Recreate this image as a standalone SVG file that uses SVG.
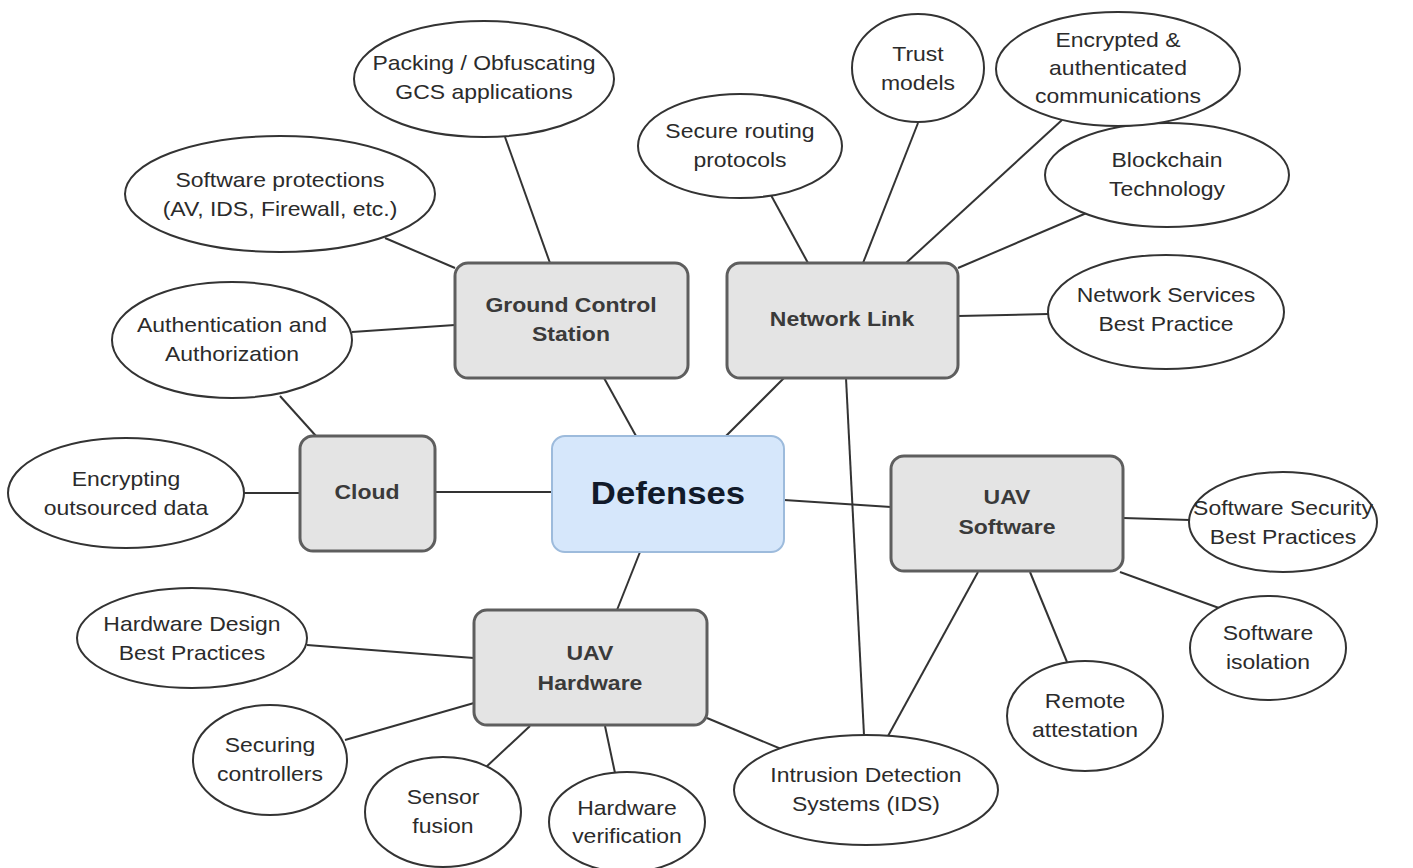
<svg xmlns="http://www.w3.org/2000/svg" width="1413" height="868" viewBox="0 0 1413 868">
<style>
.bg{fill:#ffffff}
.leaf{fill:#ffffff;stroke:#333333;stroke-width:2}
.hub{fill:#e4e4e4;stroke:#5e5e5e;stroke-width:3}
.root{fill:#d6e7fb;stroke:#9dbbdc;stroke-width:2}
text{transform-box:fill-box;transform-origin:center}
.t{font-family:"Liberation Sans",Arial,sans-serif;font-size:20.5px;fill:#2b2b2b;text-anchor:middle;transform:scaleX(1.12)}
.hb{font-family:"Liberation Sans",Arial,sans-serif;font-size:20px;font-weight:bold;fill:#3a3a3a;text-anchor:middle;transform:scaleX(1.15)}
.rt{font-family:"Liberation Sans",Arial,sans-serif;font-size:31px;font-weight:bold;fill:#111a2a;text-anchor:middle;transform:scaleX(1.12)}
.c line{stroke:#333333;stroke-width:2}
</style>
<rect class="bg" x="0" y="0" width="1413" height="868"/>
<g id="connectors" class="c">
<line x1="550" y1="263" x2="505" y2="137"/>
<line x1="455" y1="268" x2="385" y2="238"/>
<line x1="455" y1="325" x2="352" y2="332"/>
<line x1="604" y1="378" x2="636" y2="436"/>
<line x1="280" y1="396" x2="316" y2="436"/>
<line x1="300" y1="493" x2="244" y2="493"/>
<line x1="435" y1="492" x2="552" y2="492"/>
<line x1="784" y1="378" x2="726" y2="436"/>
<line x1="808" y1="263" x2="766" y2="186"/>
<line x1="863" y1="263" x2="918" y2="123"/>
<line x1="906" y1="263" x2="1062" y2="120"/>
<line x1="958" y1="268" x2="1096" y2="209"/>
<line x1="958" y1="316" x2="1048" y2="314"/>
<line x1="846" y1="378" x2="864" y2="735"/>
<line x1="784" y1="500" x2="891" y2="507"/>
<line x1="1123" y1="518" x2="1190" y2="520"/>
<line x1="1120" y1="572" x2="1219" y2="608"/>
<line x1="1030" y1="572" x2="1067" y2="662"/>
<line x1="978" y1="572" x2="888" y2="736"/>
<line x1="640" y1="552" x2="617" y2="610"/>
<line x1="474" y1="658" x2="307" y2="645"/>
<line x1="474" y1="703" x2="345" y2="740"/>
<line x1="530" y1="726" x2="485" y2="768"/>
<line x1="605" y1="726" x2="615" y2="773"/>
<line x1="707" y1="718" x2="786" y2="751"/>
</g>
<g id="defenses"><rect class="root" x="552" y="436" width="232" height="116" rx="13"/><text class="rt" x="668" y="504">Defenses</text></g>
<g id="gcs"><rect class="hub" x="455" y="263" width="233" height="115" rx="13"/><text class="hb" x="571" y="312">Ground Control</text><text class="hb" x="571" y="341">Station</text></g>
<g id="network-link"><rect class="hub" x="727" y="263" width="231" height="115" rx="13"/><text class="hb" x="842" y="326">Network Link</text></g>
<g id="cloud"><rect class="hub" x="300" y="436" width="135" height="115" rx="13"/><text class="hb" x="367" y="499">Cloud</text></g>
<g id="uav-software"><rect class="hub" x="891" y="456" width="232" height="115" rx="13"/><text class="hb" x="1007" y="504">UAV</text><text class="hb" x="1007" y="534">Software</text></g>
<g id="uav-hardware"><rect class="hub" x="474" y="610" width="233" height="115" rx="13"/><text class="hb" x="590" y="660">UAV</text><text class="hb" x="590" y="690">Hardware</text></g>

<g id="packing"><ellipse class="leaf" cx="484" cy="79" rx="130" ry="58"/><text class="t" x="484" y="70">Packing / Obfuscating</text><text class="t" x="484" y="99">GCS applications</text></g>
<g id="software-protections"><ellipse class="leaf" cx="280" cy="194" rx="155" ry="58"/><text class="t" x="280" y="187">Software protections</text><text class="t" x="280" y="216">(AV, IDS, Firewall, etc.)</text></g>
<g id="auth"><ellipse class="leaf" cx="232" cy="340" rx="120" ry="58"/><text class="t" x="232" y="332">Authentication and</text><text class="t" x="232" y="361">Authorization</text></g>
<g id="encrypting"><ellipse class="leaf" cx="126" cy="493" rx="118" ry="55"/><text class="t" x="126" y="486">Encrypting</text><text class="t" x="126" y="515">outsourced data</text></g>
<g id="hw-design"><ellipse class="leaf" cx="192" cy="638" rx="115" ry="50"/><text class="t" x="192" y="631">Hardware Design</text><text class="t" x="192" y="660">Best Practices</text></g>
<g id="securing-controllers"><ellipse class="leaf" cx="270" cy="760" rx="77" ry="55"/><text class="t" x="270" y="752">Securing</text><text class="t" x="270" y="781">controllers</text></g>
<g id="sensor-fusion"><ellipse class="leaf" cx="443" cy="812" rx="78" ry="55"/><text class="t" x="443" y="804">Sensor</text><text class="t" x="443" y="833">fusion</text></g>
<g id="hw-verification"><ellipse class="leaf" cx="627" cy="822" rx="78" ry="50"/><text class="t" x="627" y="815">Hardware</text><text class="t" x="627" y="843">verification</text></g>
<g id="ids"><ellipse class="leaf" cx="866" cy="790" rx="132" ry="55"/><text class="t" x="866" y="782">Intrusion Detection</text><text class="t" x="866" y="811">Systems (IDS)</text></g>
<g id="remote-attestation"><ellipse class="leaf" cx="1085" cy="716" rx="78" ry="55"/><text class="t" x="1085" y="708">Remote</text><text class="t" x="1085" y="737">attestation</text></g>
<g id="software-isolation"><ellipse class="leaf" cx="1268" cy="648" rx="78" ry="52"/><text class="t" x="1268" y="640">Software</text><text class="t" x="1268" y="669">isolation</text></g>
<g id="sw-security"><ellipse class="leaf" cx="1283" cy="522" rx="94" ry="50"/><text class="t" x="1283" y="515">Software Security</text><text class="t" x="1283" y="544">Best Practices</text></g>
<g id="net-services"><ellipse class="leaf" cx="1166" cy="312" rx="118" ry="57"/><text class="t" x="1166" y="302">Network Services</text><text class="t" x="1166" y="331">Best Practice</text></g>
<g id="blockchain"><ellipse class="leaf" cx="1167" cy="175" rx="122" ry="52"/><text class="t" x="1167" y="167">Blockchain</text><text class="t" x="1167" y="196">Technology</text></g>
<g id="encrypted"><ellipse class="leaf" cx="1118" cy="69" rx="122" ry="57"/><text class="t" x="1118" y="47">Encrypted &amp;</text><text class="t" x="1118" y="75">authenticated</text><text class="t" x="1118" y="103">communications</text></g>
<g id="trust"><ellipse class="leaf" cx="918" cy="68" rx="66" ry="54"/><text class="t" x="918" y="61">Trust</text><text class="t" x="918" y="90">models</text></g>
<g id="secure-routing"><ellipse class="leaf" cx="740" cy="146" rx="102" ry="52"/><text class="t" x="740" y="138">Secure routing</text><text class="t" x="740" y="167">protocols</text></g>
</svg>
